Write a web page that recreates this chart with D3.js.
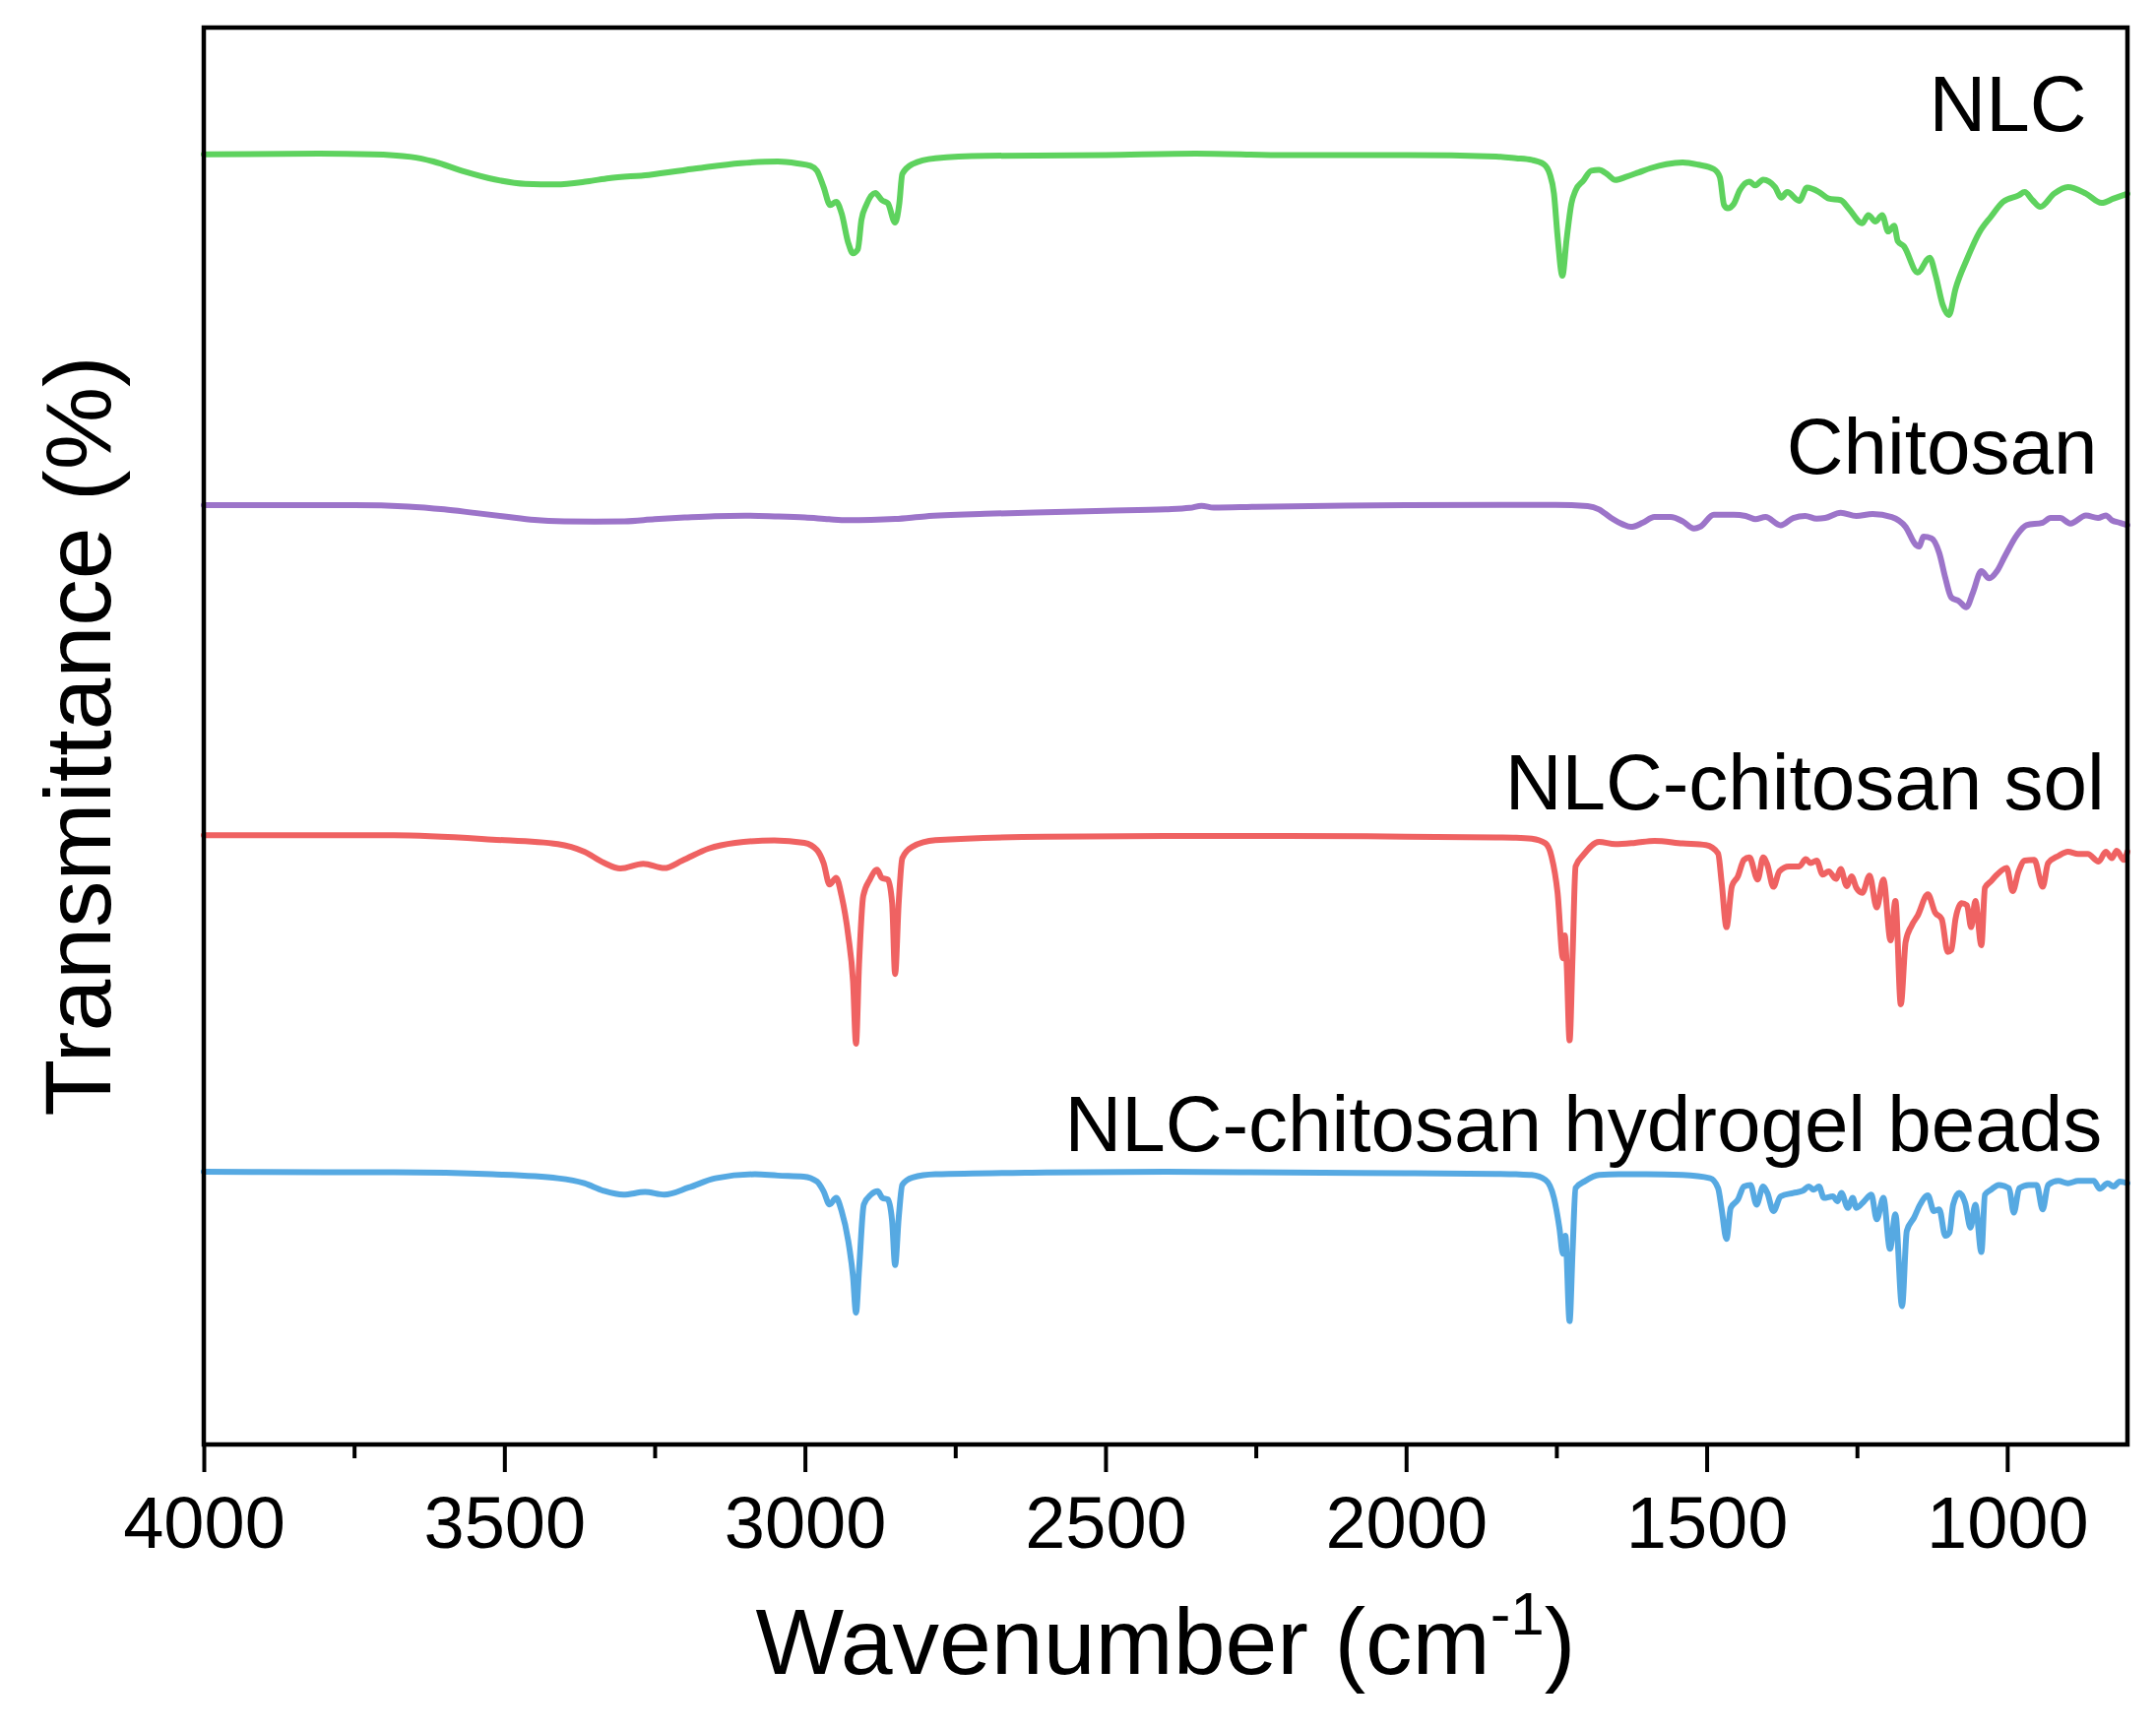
<!DOCTYPE html>
<html>
<head>
<meta charset="utf-8">
<script src="https://cdn.jsdelivr.net/npm/d3@7"></script>
<style>
  html, body { margin: 0; padding: 0; background: #ffffff; }
  svg { display: block; }
  text { font-family: "Liberation Sans", Arial, Helvetica, sans-serif; fill: #000; }
</style>
</head>
<body>
<svg id="chart" width="2190" height="1759"></svg>
<script>
// ---------------- DATA (wavenumber cm-1, transmittance in stacked arbitrary units) ----------------
const seriesNames = ["NLC", "Chitosan", "NLC-chitosan sol", "NLC-chitosan hydrogel beads"];

const nlcData = [[4000,91.06],[3808,91.1],[3720,91.06],[3655,90.87],[3618,90.55],[3567,89.85],[3516,89.28],[3465,88.97],[3414,88.93],[3362,89.14],[3326,89.37],[3260,89.6],[3180,90.06],[3107,90.43],[3045,90.55],[3012,90.41],[2991,90.25],[2980,89.9],[2969,88.75],[2958,87.47],[2948,87.7],[2939,86.89],[2928,84.81],[2920,84.07],[2912,84.35],[2906,86.43],[2898,87.47],[2883,88.33],[2872,87.82],[2862,87.59],[2850,86.24],[2843,87.59],[2838,89.67],[2821,90.37],[2783,90.78],[2700,90.95],[2500,91.0],[2350,91.1],[2200,91.0],[2000,91.0],[1850,90.9],[1817,90.78],[1791,90.66],[1771,90.36],[1761,89.67],[1754,88.28],[1748,85.27],[1740,82.49],[1733,85.04],[1725,87.58],[1718,88.51],[1705,89.2],[1692,89.9],[1679,89.95],[1666,89.67],[1652,89.25],[1633,89.48],[1613,89.78],[1593,90.08],[1567,90.36],[1540,90.48],[1514,90.32],[1488,90.01],[1478,89.44],[1471,87.47],[1465,87.24],[1455,87.54],[1445,88.51],[1429,89.13],[1419,88.86],[1406,89.27],[1386,88.74],[1376,88.0],[1366,88.39],[1346,87.77],[1333,88.7],[1313,88.39],[1297,87.93],[1277,87.82],[1264,87.24],[1241,86.19],[1231,86.77],[1219,86.31],[1208,86.77],[1198,85.61],[1188,86.01],[1182,84.92],[1172,84.57],[1149,82.72],[1129,83.76],[1119,82.49],[1107,80.4],[1097,79.71],[1086,81.56],[1067,83.65],[1047,85.5],[1027,86.66],[1007,87.7],[981,88.16],[971,88.39],[958,87.82],[945,87.35],[922,88.28],[899,88.74],[869,88.28],[843,87.63],[823,87.93],[800,88.28]];

const chitosanData = [[4000,66.29],[3750,66.29],[3660,66.2],[3600,66.0],[3550,65.75],[3500,65.5],[3450,65.25],[3400,65.15],[3350,65.13],[3300,65.15],[3250,65.3],[3200,65.42],[3150,65.52],[3100,65.55],[3050,65.5],[3000,65.42],[2960,65.3],[2930,65.23],[2890,65.25],[2850,65.32],[2800,65.5],[2700,65.68],[2600,65.8],[2500,65.9],[2400,66.0],[2360,66.1],[2340,66.25],[2320,66.12],[2250,66.18],[2100,66.26],[2000,66.29],[1817,66.32],[1751,66.32],[1698,66.22],[1679,65.99],[1659,65.39],[1639,64.93],[1626,64.76],[1606,65.06],[1587,65.46],[1560,65.46],[1540,65.16],[1521,64.65],[1511,64.76],[1488,65.62],[1455,65.62],[1435,65.53],[1419,65.3],[1402,65.46],[1377,64.88],[1356,65.39],[1336,65.53],[1317,65.34],[1303,65.39],[1277,65.76],[1251,65.53],[1224,65.67],[1192,65.46],[1169,64.76],[1152,63.49],[1147,63.37],[1139,64.07],[1126,63.95],[1113,62.91],[1103,61.17],[1093,59.78],[1080,59.51],[1068,59.09],[1057,60.13],[1043,61.64],[1030,61.13],[1017,61.64],[1004,62.68],[984,64.18],[968,64.88],[941,65.06],[928,65.39],[912,65.39],[895,65.0],[869,65.57],[849,65.39],[836,65.57],[826,65.23],[813,65.06],[800,64.88]];

const solData = [[4000,43.0],[3800,43.0],[3684,42.99],[3520,42.69],[3411,42.37],[3367,41.83],[3335,41.07],[3307,40.65],[3269,40.98],[3234,40.68],[3204,41.21],[3160,42.06],[3116,42.46],[3051,42.64],[3001,42.46],[2980,41.95],[2969,41.03],[2959,39.52],[2948,39.99],[2939,38.71],[2928,35.93],[2920,32.69],[2915,28.29],[2910,33.85],[2903,38.71],[2892,39.87],[2880,40.56],[2872,39.99],[2862,39.87],[2855,38.25],[2850,33.2],[2844,38.25],[2838,41.38],[2821,42.19],[2783,42.65],[2600,42.9],[2400,42.95],[2200,42.95],[2000,42.9],[1850,42.85],[1817,42.83],[1791,42.76],[1768,42.42],[1758,41.49],[1748,38.94],[1739,34.31],[1736,35.93],[1733,34.08],[1728,28.52],[1723,34.54],[1718,40.8],[1705,41.61],[1679,42.53],[1652,42.37],[1619,42.46],[1587,42.6],[1540,42.42],[1501,42.3],[1481,41.72],[1475,39.64],[1467,36.51],[1458,39.41],[1448,40.1],[1438,41.26],[1429,41.44],[1415,39.87],[1406,41.44],[1399,40.91],[1389,39.36],[1379,40.45],[1363,40.8],[1346,40.8],[1335,41.31],[1327,41.03],[1317,41.21],[1307,40.22],[1297,40.45],[1285,39.92],[1277,40.61],[1267,39.41],[1259,40.1],[1251,39.29],[1241,38.94],[1229,40.15],[1217,37.9],[1206,39.87],[1194,35.58],[1186,38.36],[1177,31.07],[1169,35.47],[1159,36.63],[1149,37.32],[1132,38.83],[1120,37.55],[1109,37.09],[1099,34.77],[1093,34.89],[1086,37.09],[1076,38.2],[1067,38.06],[1060,36.51],[1053,38.36],[1043,35.24],[1037,39.29],[1027,39.75],[1017,40.22],[1001,40.68],[991,39.06],[981,40.45],[971,41.21],[955,41.26],[941,39.36],[932,41.03],[915,41.54],[899,41.84],[882,41.68],[866,41.68],[848,41.14],[836,41.84],[826,41.38],[818,41.91],[806,41.26],[800,41.84]];

const beadsData = [[4000,19.25],[3800,19.22],[3684,19.21],[3520,19.07],[3411,18.79],[3367,18.44],[3335,17.91],[3302,17.63],[3266,17.82],[3234,17.63],[3193,18.14],[3149,18.79],[3083,19.07],[3045,18.98],[3002,18.91],[2980,18.56],[2969,17.87],[2959,16.94],[2948,17.4],[2939,16.48],[2928,14.39],[2920,11.85],[2915,9.3],[2910,12.31],[2902,16.94],[2890,17.64],[2879,17.87],[2871,17.4],[2862,17.29],[2855,15.78],[2850,12.66],[2844,16.02],[2838,18.33],[2821,18.84],[2783,19.07],[2600,19.2],[2400,19.25],[2200,19.2],[2000,19.15],[1850,19.1],[1817,19.07],[1791,19.02],[1768,18.67],[1754,17.4],[1745,15.31],[1739,13.46],[1735,14.73],[1728,8.71],[1723,13.69],[1718,18.09],[1702,18.6],[1679,19.02],[1646,19.07],[1600,19.07],[1540,19.02],[1494,18.79],[1481,18.09],[1475,16.59],[1467,14.5],[1460,16.7],[1448,17.28],[1438,18.21],[1427,18.32],[1417,16.93],[1406,18.21],[1399,17.75],[1389,16.47],[1377,17.51],[1356,17.75],[1340,17.91],[1330,18.21],[1322,17.98],[1313,18.21],[1305,17.4],[1290,17.51],[1282,17.17],[1276,17.75],[1265,16.7],[1257,17.4],[1251,16.7],[1238,17.17],[1226,17.63],[1217,15.89],[1206,17.4],[1195,13.81],[1186,16.24],[1175,9.76],[1167,15.08],[1155,16.01],[1145,16.93],[1132,17.58],[1122,16.47],[1113,16.59],[1103,14.73],[1096,14.97],[1090,16.93],[1080,17.75],[1070,17.05],[1061,15.31],[1053,16.93],[1043,13.58],[1037,17.63],[1027,17.98],[1014,18.32],[997,18.09],[989,16.36],[980,18.09],[964,18.32],[951,18.32],[941,16.59],[932,18.32],[915,18.6],[899,18.44],[882,18.6],[856,18.6],[846,18.05],[833,18.44],[823,18.21],[813,18.55],[800,18.44]];

const majorTicks = [4000, 3500, 3000, 2500, 2000, 1500, 1000];
const minorTicks = [3750, 3250, 2750, 2250, 1750, 1250];
const xDomain = [4000, 800];
const yDomain = [0, 100];

// label anchor values: [wavenumber at right end, transmittance at baseline]
const labelAnchors = [[868, 92.7], [850, 68.5], [838, 44.8], [842, 20.7]];

// ---------------- STYLE ----------------
const seriesColors = ["#5ED25E", "#9C74C9", "#EF6262", "#56A9E2"];
const W = 2190, H = 1759;
const plot = { left: 207, right: 2161, top: 28, bottom: 1467 };

const svg = d3.select("#chart");
svg.append("rect").attr("width", W).attr("height", H).attr("fill", "#fff");

const x = d3.scaleLinear().domain(xDomain).range([plot.left, plot.right]);
const y = d3.scaleLinear().domain(yDomain).range([plot.bottom, plot.top]);

const line = d3.line()
  .x(d => x(d[0]))
  .y(d => y(d[1]))
  .curve(d3.curveMonotoneX);

const allSeries = [nlcData, chitosanData, solData, beadsData];

const gLines = svg.append("g");
allSeries.forEach((data, i) => {
  gLines.append("path")
    .datum(data)
    .attr("fill", "none")
    .attr("stroke", seriesColors[i])
    .attr("stroke-width", 6)
    .attr("stroke-linejoin", "round")
    .attr("stroke-linecap", "round")
    .attr("d", line);
});

// series labels
seriesNames.forEach((name, i) => {
  svg.append("text")
    .attr("x", x(labelAnchors[i][0]))
    .attr("y", y(labelAnchors[i][1]))
    .attr("text-anchor", "end")
    .attr("font-size", 80)
    .text(name);
});

// frame
svg.append("rect")
  .attr("x", plot.left).attr("y", plot.top)
  .attr("width", plot.right - plot.left)
  .attr("height", plot.bottom - plot.top)
  .attr("fill", "none")
  .attr("stroke", "#000")
  .attr("stroke-width", 4.5);

// x axis major
const xAxis = d3.axisBottom(x).tickValues(majorTicks).tickSize(28).tickPadding(24).tickFormat(d3.format("d"));
const gx = svg.append("g").attr("transform", `translate(0,${plot.bottom})`).call(xAxis);
gx.select(".domain").remove();
gx.selectAll(".tick line").attr("stroke", "#000").attr("stroke-width", 4);
gx.selectAll(".tick text")
  .attr("font-size", 74)
  .attr("font-family", "'Liberation Sans', Arial, sans-serif")
  .attr("fill", "#000");

// x axis minor
const xMinor = d3.axisBottom(x).tickValues(minorTicks).tickSize(14).tickFormat("");
const gxm = svg.append("g").attr("transform", `translate(0,${plot.bottom})`).call(xMinor);
gxm.select(".domain").remove();
gxm.selectAll(".tick line").attr("stroke", "#000").attr("stroke-width", 4);

// x title
const xt = svg.append("text")
  .attr("x", (plot.left + plot.right) / 2)
  .attr("y", 1700)
  .attr("text-anchor", "middle")
  .attr("font-size", 95);
xt.append("tspan").text("Wavenumber (cm");
xt.append("tspan").attr("font-size", 62).attr("dy", -40).text("-1");
xt.append("tspan").attr("dy", 40).text(")");

// y title
svg.append("text")
  .attr("transform", `translate(112,${(plot.top + plot.bottom) / 2}) rotate(-90)`)
  .attr("text-anchor", "middle")
  .attr("font-size", 95)
  .text("Transmittance (%)");
</script>
</body>
</html>
